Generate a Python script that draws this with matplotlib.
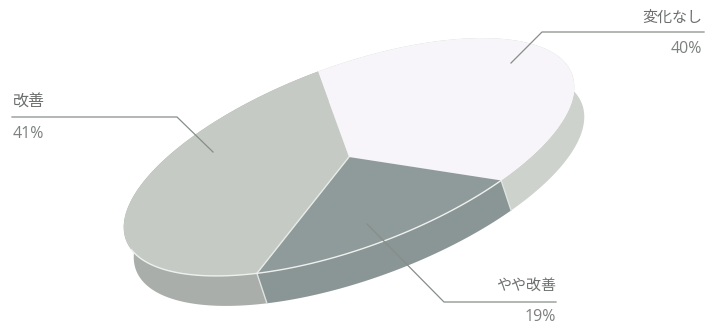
import numpy as np
import matplotlib
matplotlib.use('Agg')
import matplotlib.pyplot as plt
from matplotlib.transforms import Affine2D

plt.rcParams['font.family'] = ['Noto Sans CJK JP', 'DejaVu Sans']

categories = ['変化なし', 'やや改善', '改善']
values = [40.4, 18.5, 41.1]  # shares as drawn, the printed labels are rounded
percent_labels = ['40%', '19%', '41%']
top_colors = ['#f7f5f9', '#8f9b9a', '#c6cac5']
side_colors = ['#cdd2cd', '#8a9695', '#a9aeab']

# tilted disc in pixel coordinates
center = np.array([349.0, 157.0])
axis_up = np.array([-24.0, -88.0])
axis_right = np.array([224.0, -80.0])
depth = np.array([10.0, 30.0])
start = -1.8  # degrees clockwise from axis_up

fig = plt.figure(figsize=(7.07, 3.24), dpi=100)
ax = fig.add_axes([0, 0, 1, 1])

disc = Affine2D(np.array([[axis_right[0], axis_up[0], center[0]],
                          [axis_right[1], axis_up[1], center[1]],
                          [0, 0, 1]]))


def rim(angle):
    return center + np.sin(angle)[:, None] * axis_right + np.cos(angle)[:, None] * axis_up


# side walls first, the top face covers the hidden part
edges = np.radians(start) + np.cumsum([0] + values) / sum(values) * 2 * np.pi
for i in range(len(values)):
    t = np.linspace(edges[i], edges[i + 1], 120)
    upper = rim(t)
    lower = upper + depth
    wall = np.vstack([upper, lower[::-1]])
    ax.fill(wall[:, 0], wall[:, 1], color=side_colors[i], lw=0, zorder=1)
    if i in (1, 2):
        seam = np.vstack([upper[0], lower[0]])
        ax.plot(seam[:, 0], seam[:, 1], color='#dfe3e1', lw=1.0, zorder=2)

wedges, _ = ax.pie(values, colors=top_colors, startangle=90 - start, counterclock=False,
                   frame=True, wedgeprops={'linewidth': 0})
for w in wedges:
    w.set_transform(disc + ax.transData)
    w.set_zorder(3)

# white lines on the disc
p = rim(np.array([edges[2]]))[0]
ax.plot([center[0], p[0]], [center[1], p[1]], color='#e8ece9', lw=1.0, zorder=4)
t = np.linspace(edges[1], np.radians(261), 120)
r = rim(t)
ax.plot(r[:, 0], r[:, 1], color='#eef0ee', lw=1.0, zorder=4)

# leader lines
leaders = [([704, 542, 511], [32, 32, 63]),
           ([556, 444, 367], [302, 302, 224]),
           ([12, 177, 213], [117, 117, 152])]
for lx, ly in leaders:
    ax.plot(lx, ly, color='#868e88', lw=0.9, zorder=5)

name_color = '#6c706d'
pct_color = '#7d817e'
pct_font = ['Open Sans', 'DejaVu Sans']
ax.text(702, 18, categories[0], ha='right', va='center', fontsize=10.8, color=name_color)
ax.text(702, 49, percent_labels[0], ha='right', va='center', fontsize=11.5, color=pct_color, family=pct_font)
ax.text(556, 286, categories[1], ha='right', va='center', fontsize=10.8, color=name_color)
ax.text(556, 317, percent_labels[1], ha='right', va='center', fontsize=11.5, color=pct_color, family=pct_font)
ax.text(13, 102, categories[2], ha='left', va='center', fontsize=11.5, color=name_color)
ax.text(13, 134, percent_labels[2], ha='left', va='center', fontsize=11.5, color=pct_color, family=pct_font)

ax.set_aspect('auto')
ax.set_xlim(0, 707)
ax.set_ylim(324, 0)
ax.axis('off')

fig.savefig('out.png', dpi=100)
